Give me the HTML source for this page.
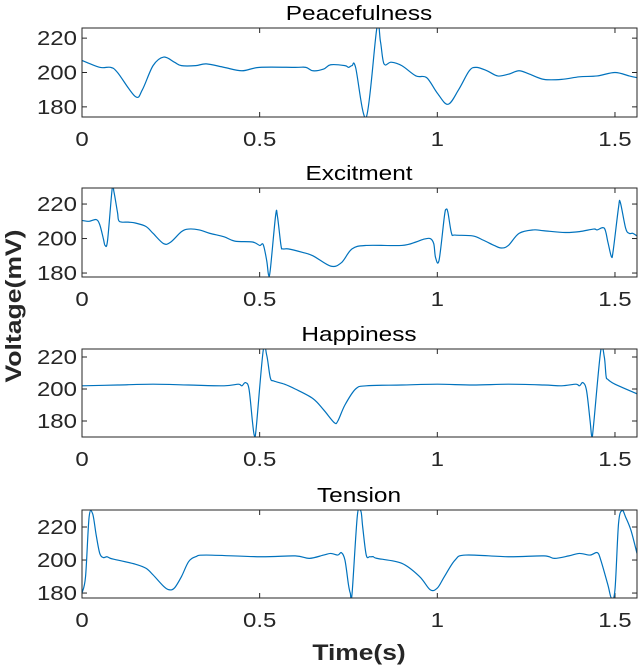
<!DOCTYPE html>
<html><head><meta charset="utf-8"><style>
body{margin:0;background:#fff}
svg{display:block;font-family:"Liberation Sans",sans-serif}
</style></head><body>
<svg id="c" width="640" height="667" viewBox="0 0 640 667">
<text x="21" y="306" transform="rotate(-90 21 306)" text-anchor="middle" font-size="22" font-weight="bold" fill="#262626" textLength="153" lengthAdjust="spacingAndGlyphs">Voltage(mV)</text>
<text transform="translate(359 660) scale(1.2 1)" x="0" y="0" text-anchor="middle" font-size="22" font-weight="bold" fill="#262626">Time(s)</text>
</svg>
<script>
const titles=["Peacefulness","Excitment","Happiness","Tension"];
const xTicks=[0,0.5,1,1.5];
const xTickLabels=["0","0.5","1","1.5"];
const yTicks=[180,200,220];
const yTickLabels=["180","200","220"];
const peaceT=[0,0.05,0.08,0.1,0.15,0.17,0.2,0.23,0.26,0.28,0.32,0.35,0.4,0.45,0.5,0.6,0.63,0.65,0.68,0.7,0.74,0.75,0.76,0.77,0.8,0.83,0.84,0.85,0.87,0.9,0.94,0.97,1.0,1.03,1.06,1.09,1.11,1.14,1.17,1.2,1.23,1.26,1.3,1.35,1.4,1.45,1.5,1.54,1.562];
const peaceV=[207,203,203,200,186,190,204,209,206,204,204,205,203,201,203,203,203,201,202,204.5,204,203,204,203,174,226,218,205,206,204,198,197,188,181.5,190,201,203,201,198,199,201,199,196,196,197.5,198,200,198,197];
const excT=[0,0.02,0.04,0.05,0.06,0.065,0.072,0.085,0.09,0.1,0.105,0.13,0.15,0.18,0.2,0.23,0.25,0.28,0.3,0.33,0.36,0.4,0.43,0.48,0.5,0.51,0.52,0.525,0.53,0.545,0.55,0.56,0.565,0.58,0.62,0.65,0.7,0.73,0.76,0.8,0.9,0.94,0.96,0.98,0.99,0.995,1.005,1.02,1.025,1.03,1.04,1.05,1.1,1.13,1.16,1.18,1.2,1.23,1.27,1.3,1.36,1.4,1.44,1.45,1.47,1.48,1.49,1.495,1.51,1.515,1.53,1.54,1.55,1.562];
const excV=[210.5,210,211,208,200,196,199,229,227,215,210,209.5,209,207,203,197,198,204,205.5,205,203,201,198.5,198,196,196.5,187,179,182,213.5,213,196,194,194,192,190,184,186,194,196,196,198,199.5,200,197,189,187.5,213,217,215,203,202,201.5,199,196,194.5,196,203,205,204.5,203.5,204,205.5,205,206,198,189.5,193,218,221,206,203,203,201.5];
const hapT=[0,0.1,0.2,0.3,0.4,0.44,0.45,0.46,0.47,0.48,0.485,0.49,0.51,0.52,0.53,0.54,0.57,0.6,0.65,0.68,0.71,0.72,0.74,0.77,0.8,0.9,1.0,1.1,1.2,1.3,1.35,1.39,1.4,1.41,1.42,1.43,1.435,1.44,1.46,1.47,1.475,1.48,1.5,1.562];
const hapV=[202,202.5,203,202.5,202,203,202,204,200,179,171,175,224,221,207,205,203,200,194,187,179,180,190,200,202,202.5,203,202.5,203,202.5,202,203,202,204,199,180,170,178,224,220,208,206,203,197];
const tenT=[0,0.01,0.02,0.03,0.04,0.05,0.06,0.07,0.08,0.1,0.15,0.18,0.2,0.23,0.245,0.26,0.28,0.3,0.32,0.35,0.5,0.6,0.64,0.68,0.7,0.72,0.73,0.74,0.75,0.755,0.76,0.775,0.785,0.79,0.8,0.81,0.82,0.83,0.9,0.95,0.98,1.0,1.02,1.05,1.08,1.2,1.3,1.33,1.37,1.4,1.43,1.45,1.46,1.48,1.49,1.5,1.51,1.52,1.53,1.545,1.562];
const tenV=[180,190,226,228,215,204,201.5,202,201,200,197.5,195,191,184,182,183,190,199,202,203,202,202.5,201,203,204,203,204.5,200,185,180,179.5,227,229.5,220,203,202,202,201,198,190,182,183,190,200,203,202,202.5,201,202.5,204,203,204.5,200,185,177,182,222,230,226,218,204];
const seriesT=[peaceT,excT,hapT,tenT];
const seriesV=[peaceV,excV,hapV,tenV];
const panels=[{top:28,bot:117,ymin:174.1,ymax:225.9},{top:188,bot:277,ymin:177.7,ymax:229.3},{top:349,bot:437,ymin:170,ymax:225},{top:510,bot:598,ymin:177,ymax:230.3}];
const L=82,R=637,XMAX=1.562;
const NS="http://www.w3.org/2000/svg";
const svg=document.getElementById('c');
function mk(tag,attrs,parent){const e=document.createElementNS(NS,tag);for(const k in attrs)e.setAttribute(k,attrs[k]);(parent||svg).appendChild(e);return e;}
const xs=t=>L+(t/XMAX)*(R-L);
function smooth(pts){
  let d='M'+pts[0][0].toFixed(2)+','+pts[0][1].toFixed(2);
  for(let i=0;i<pts.length-1;i++){
    const p0=pts[Math.max(0,i-1)],p1=pts[i],p2=pts[i+1],p3=pts[Math.min(pts.length-1,i+2)];
    const c1x=p1[0]+(p2[0]-p0[0])/6,c1y=p1[1]+(p2[1]-p0[1])/6;
    const c2x=p2[0]-(p3[0]-p1[0])/6,c2y=p2[1]-(p3[1]-p1[1])/6;
    d+='C'+c1x.toFixed(2)+','+c1y.toFixed(2)+' '+c2x.toFixed(2)+','+c2y.toFixed(2)+' '+p2[0].toFixed(2)+','+p2[1].toFixed(2);
  }
  return d;
}
panels.forEach((p,i)=>{
  const g=mk('g',{});
  
  
  const ys=v=>p.bot-(v-p.ymin)/(p.ymax-p.ymin)*(p.bot-p.top);
  const tt=mk('text',{x:0,y:0,transform:'translate(359 '+(p.top-8)+') scale(1.22 1)','text-anchor':'middle','font-size':20,fill:'#000'},g);
  tt.textContent=titles[i];
  
  
  xTicks.forEach((t,j)=>{
    const x=xs(t);
    mk('line',{x1:x,x2:x,y1:p.bot,y2:p.bot-5,stroke:'#262626','stroke-width':1},g);
    mk('line',{x1:x,x2:x,y1:p.top,y2:p.top+5,stroke:'#262626','stroke-width':1},g);
    const lb=mk('text',{x:0,y:0,transform:'translate('+x+' '+(p.bot+29)+') scale(1.2 1)','text-anchor':'middle','font-size':20,fill:'#262626'},g);
    lb.textContent=xTickLabels[j];
    
    
  });
  yTicks.forEach((v,j)=>{
    const y=ys(v);
    mk('line',{x1:L,x2:L+5,y1:y,y2:y,stroke:'#262626','stroke-width':1},g);
    mk('line',{x1:R,x2:R-5,y1:y,y2:y,stroke:'#262626','stroke-width':1},g);
    const lb=mk('text',{x:0,y:0,transform:'translate('+(L-5)+' '+(y+7)+') scale(1.2 1)','text-anchor':'end','font-size':20,fill:'#262626'},g);
    lb.textContent=yTickLabels[j];
    
    
  });
  const T=seriesT[i],V=seriesV[i];
  const pts=T.map((t,k)=>[xs(t),ys(V[k])]);
  const cp=mk('clipPath',{id:'cp'+i},g);
  mk('rect',{x:L,y:p.top,width:R-L,height:p.bot-p.top},cp);
  const line=mk('path',{d:smooth(pts),fill:'none',stroke:'#0072bd','stroke-width':1.2,'clip-path':'url(#cp'+i+')'},g);
  
  
  const box=mk('rect',{x:L,y:p.top,width:R-L,height:p.bot-p.top,fill:'none',stroke:'#262626','stroke-width':1},g);
  
  
});
</script>
</body></html>
